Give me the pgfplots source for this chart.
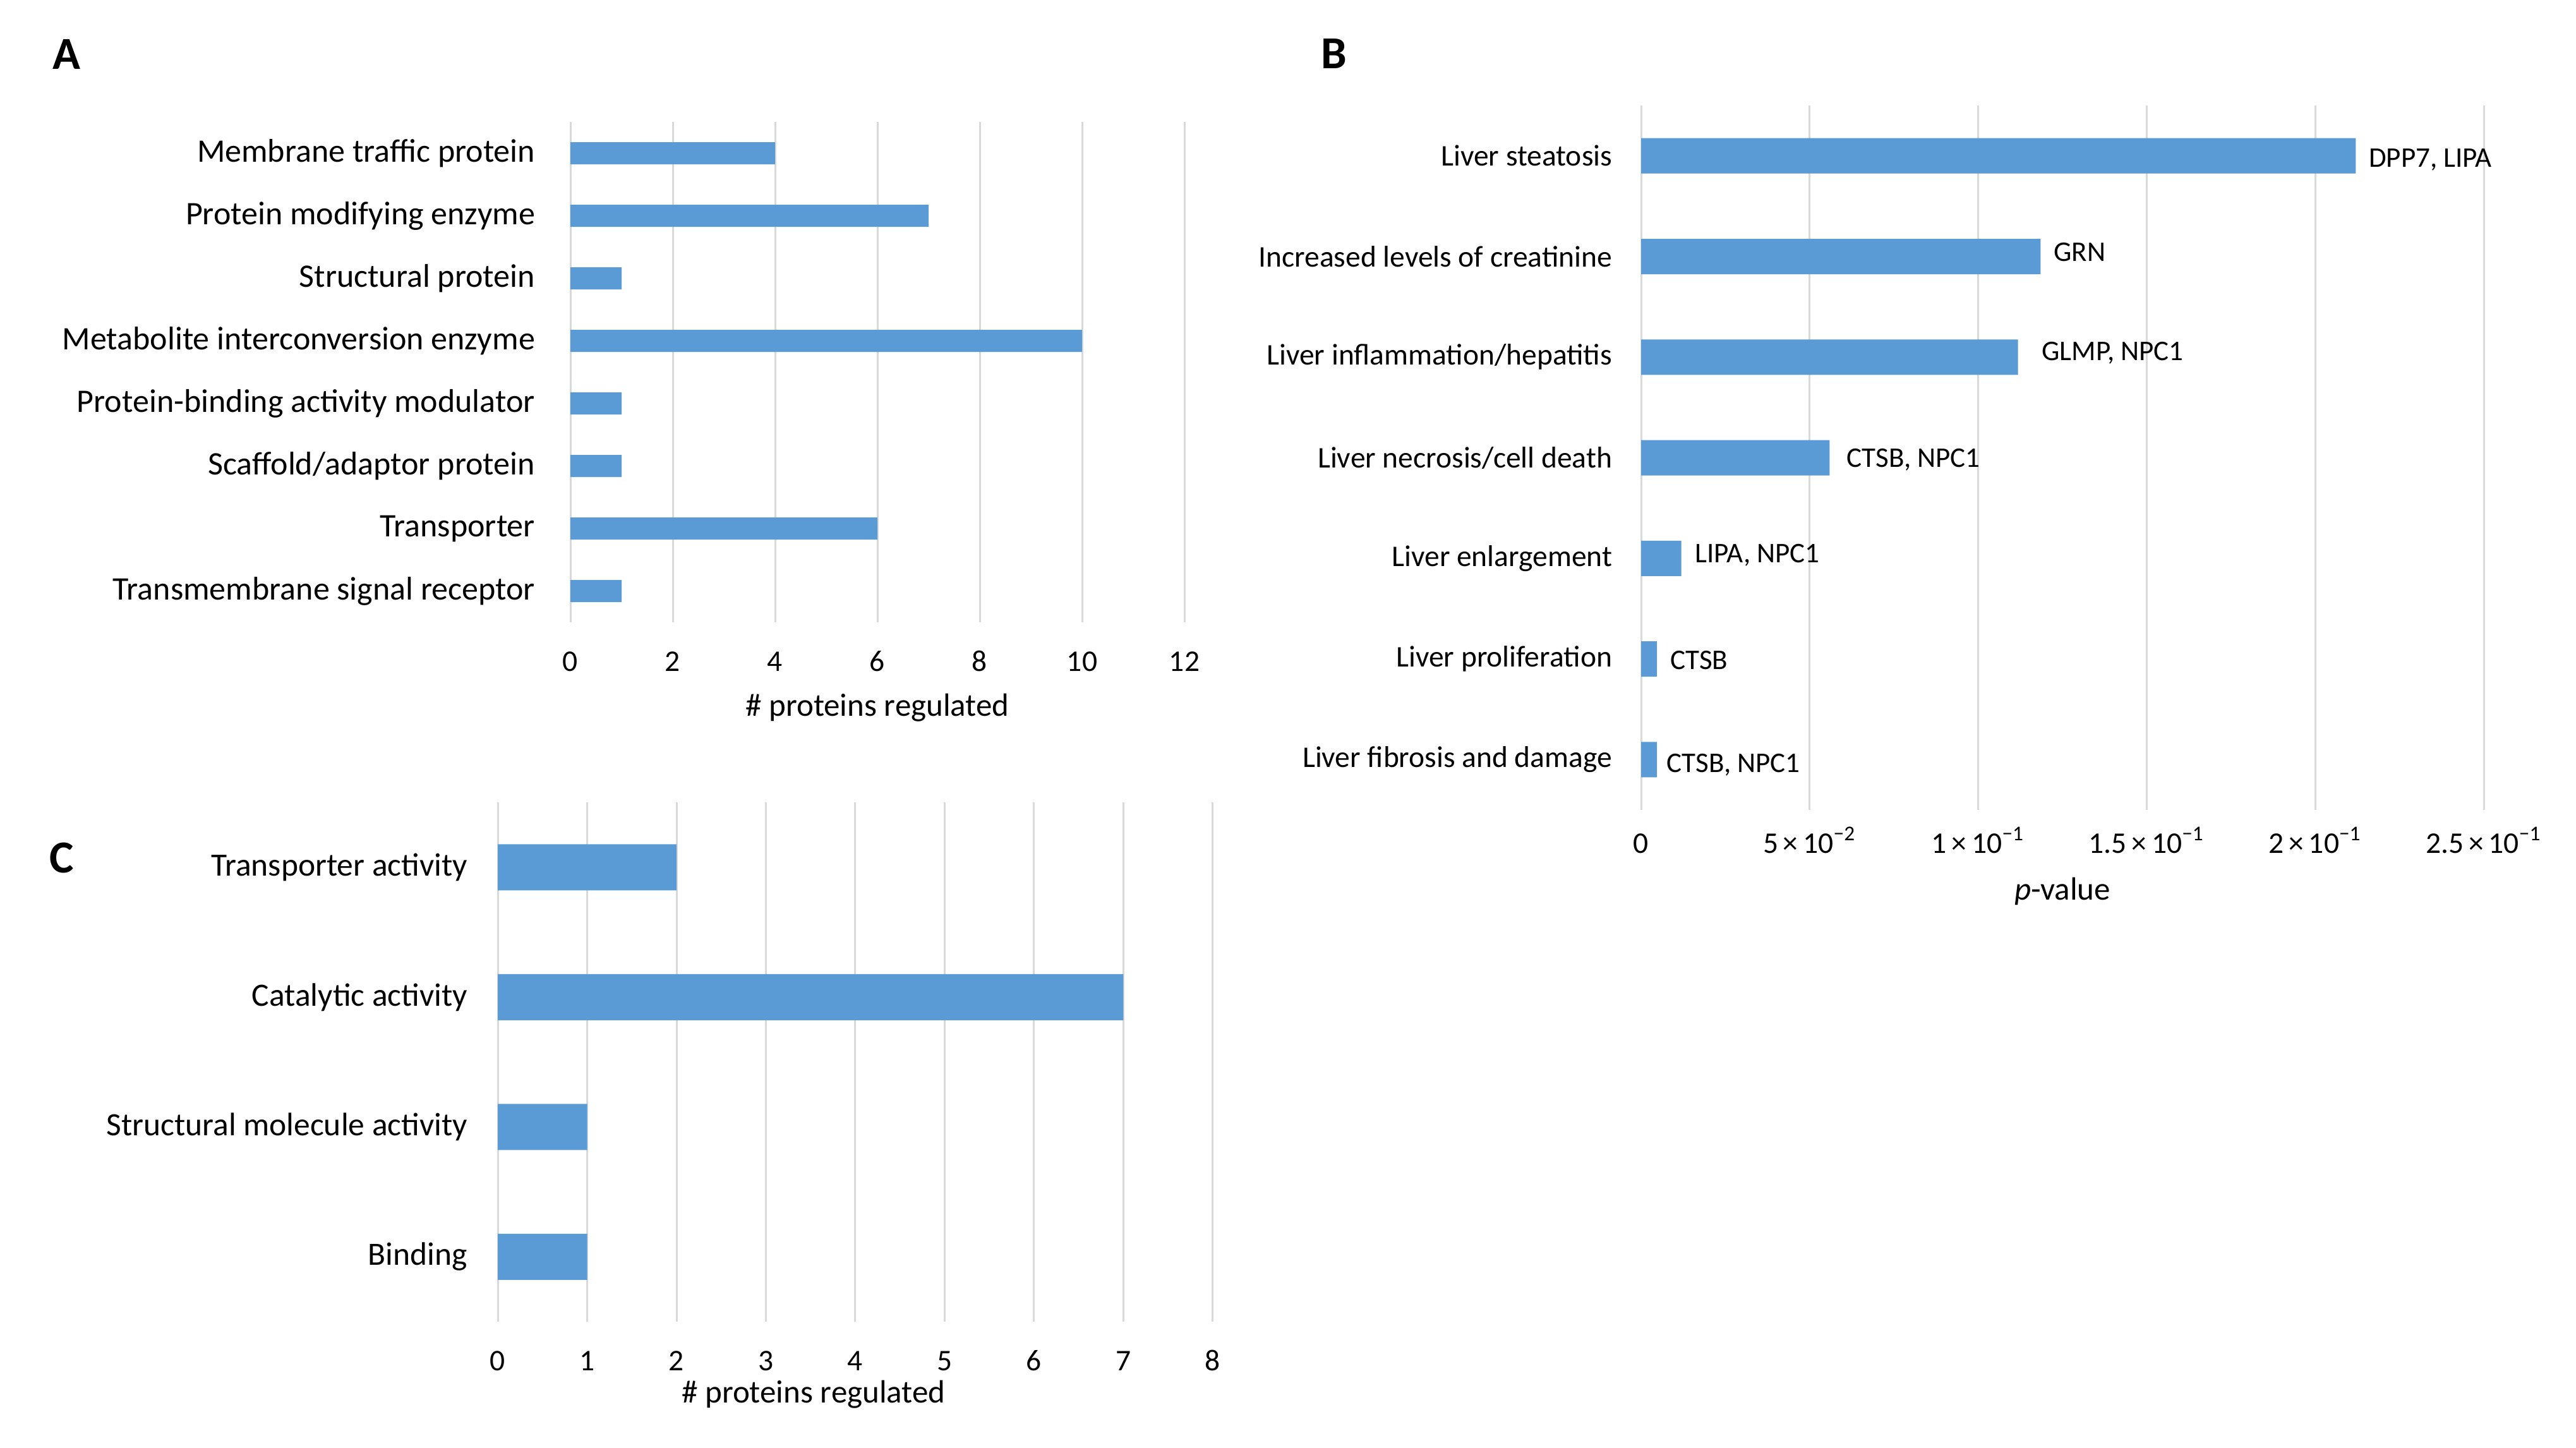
\documentclass[border=0pt]{standalone}
\usepackage{fontspec}
\setmainfont{Carlito}
\usepackage{pgfplots}
\usepackage{pgfplotstable}
\pgfplotsset{compat=1.18}

\definecolor{barblue}{HTML}{5B9BD5}
\definecolor{gridgray}{HTML}{D9D9D9}

% panel B: p-values with gene labels and hand offsets (pt)
\pgfplotstableread[col sep=semicolon]{
pos;pval;genes;dx;dy
0;0.2120;DPP7, LIPA;4;-1.3
1;0.1185;GRN;4;1.3
2;0.1118;GLMP, NPC1;7.4;1.3
3;0.0559;CTSB, NPC1;5.3;-0.6
4;0.0119;LIPA, NPC1;4.2;1.1
5;0.0047;CTSB;4;-0.4
6;0.0047;CTSB, NPC1;2.9;-1.7
}\tableB

\pgfplotsset{
  excelbar/.style={
    scale only axis,
    anchor=south west,
    xbar, bar shift=0pt,
    y dir=reverse,
    axis line style={draw=none},
    major tick length=0pt,
    xmajorgrids,
    major grid style={gridgray, line width=0.6pt},
    ymajorgrids=false,
    xmin=0,
    clip=false,
    scaled x ticks=false,
    /pgf/number format/assume math mode=true,
    xticklabel style={font=\fontsize{9.5}{11}\selectfont, inner sep=0pt, anchor=base},
    yticklabel style={font=\fontsize{10.4}{12}\selectfont, inner sep=0pt, anchor=east},
    xlabel style={font=\fontsize{10.2}{12}\selectfont, inner sep=0pt, anchor=base},
  },
}

\begin{document}
\begin{tikzpicture}
\path[use as bounding box] (0,0) rectangle (815.6pt,-458.2pt);

% ---- A ----
\begin{axis}[excelbar,
  at={(180.6pt,-197pt)},
  width=194.4pt, height=158.4pt,
  xmax=12, xtick={0,2,...,12},
  ymin=-0.5, ymax=7.5, ytick={0,...,7},
  yticklabels={Membrane traffic protein, Protein modifying enzyme, Structural protein,
    Metabolite interconversion enzyme, Protein-binding activity modulator,
    Scaffold/adaptor protein, Transporter, Transmembrane signal receptor},
  yticklabel style={xshift=-11pt},
  xticklabel style={yshift=-15.4pt},
  bar width=7pt,
  xlabel={\# proteins regulated},
  xlabel style={at={(axis description cs:0.5,0)}, yshift=-29.6pt},
  ]
  \addplot[fill=barblue, draw=none] coordinates {
    (4,0) (7,1) (1,2) (10,3) (1,4) (1,5) (6,6) (1,7)};
\end{axis}

% ---- B ----
\begin{axis}[excelbar,
  at={(519.6pt,-256.4pt)},
  width=266.8pt, height=223pt,
  xmax=0.25, xtick={0,0.05,0.1,0.15,0.2,0.25},
  xticklabels={0, 5\,×\,10\textsuperscript{−2}, 1\,×\,10\textsuperscript{−1},
    1.5\,×\,10\textsuperscript{−1}, 2\,×\,10\textsuperscript{−1}, 2.5\,×\,10\textsuperscript{−1}},
  ymin=-0.5, ymax=6.5, ytick={0,...,6},
  yticklabels={Liver steatosis, Increased levels of creatinine, Liver inflammation/hepatitis,
    Liver necrosis/cell death, Liver enlargement, Liver proliferation, Liver fibrosis and damage},
  yticklabel style={xshift=-9pt, font=\fontsize{9.5}{11}\selectfont},
  xticklabel style={yshift=-13.6pt},
  bar width=11.2pt,
  xlabel={\textit{p}-value},
  xlabel style={at={(axis description cs:0.5,0)}, yshift=-28.5pt},
  ]
  \addplot[fill=barblue, draw=none,
    point meta=explicit symbolic,
    visualization depends on={\thisrow{dx} \as \dx},
    visualization depends on={\thisrow{dy} \as \dy},
    nodes near coords,
    nodes near coords style={anchor=west, inner sep=0pt, xshift=\dx pt, yshift=\dy pt,
      font=\fontsize{9}{11}\selectfont, text=black},
  ] table[x=pval, y=pos, meta=genes] {\tableB};
\end{axis}

% ---- C ----
\begin{axis}[excelbar,
  at={(157.6pt,-418.4pt)},
  width=226.4pt, height=164.4pt,
  xmax=8, xtick={0,...,8},
  ymin=-0.5, ymax=3.5, ytick={0,...,3},
  yticklabels={Transporter activity, Catalytic activity, Structural molecule activity, Binding},
  yticklabel style={xshift=-9.4pt, font=\fontsize{10.3}{12}\selectfont},
  xticklabel style={yshift=-15.5pt},
  bar width=14.6pt,
  xlabel={\# proteins regulated},
  xlabel style={at={(axis description cs:0.4417,0)}, yshift=-25.7pt},
  ]
  \addplot[fill=barblue, draw=none] coordinates {(2,0) (7,1) (1,2) (1,3)};
\end{axis}

% panel letters
\node[anchor=base west, inner sep=0pt, font=\fontsize{14.5}{16}\selectfont\bfseries] at (16.6pt,-21.8pt) {A};
\node[anchor=base west, inner sep=0pt, font=\fontsize{14.5}{16}\selectfont\bfseries] at (418pt,-21.6pt) {B};
\node[anchor=base west, inner sep=0pt, font=\fontsize{14.5}{16}\selectfont\bfseries] at (15.4pt,-276.2pt) {C};
\end{tikzpicture}
\end{document}
